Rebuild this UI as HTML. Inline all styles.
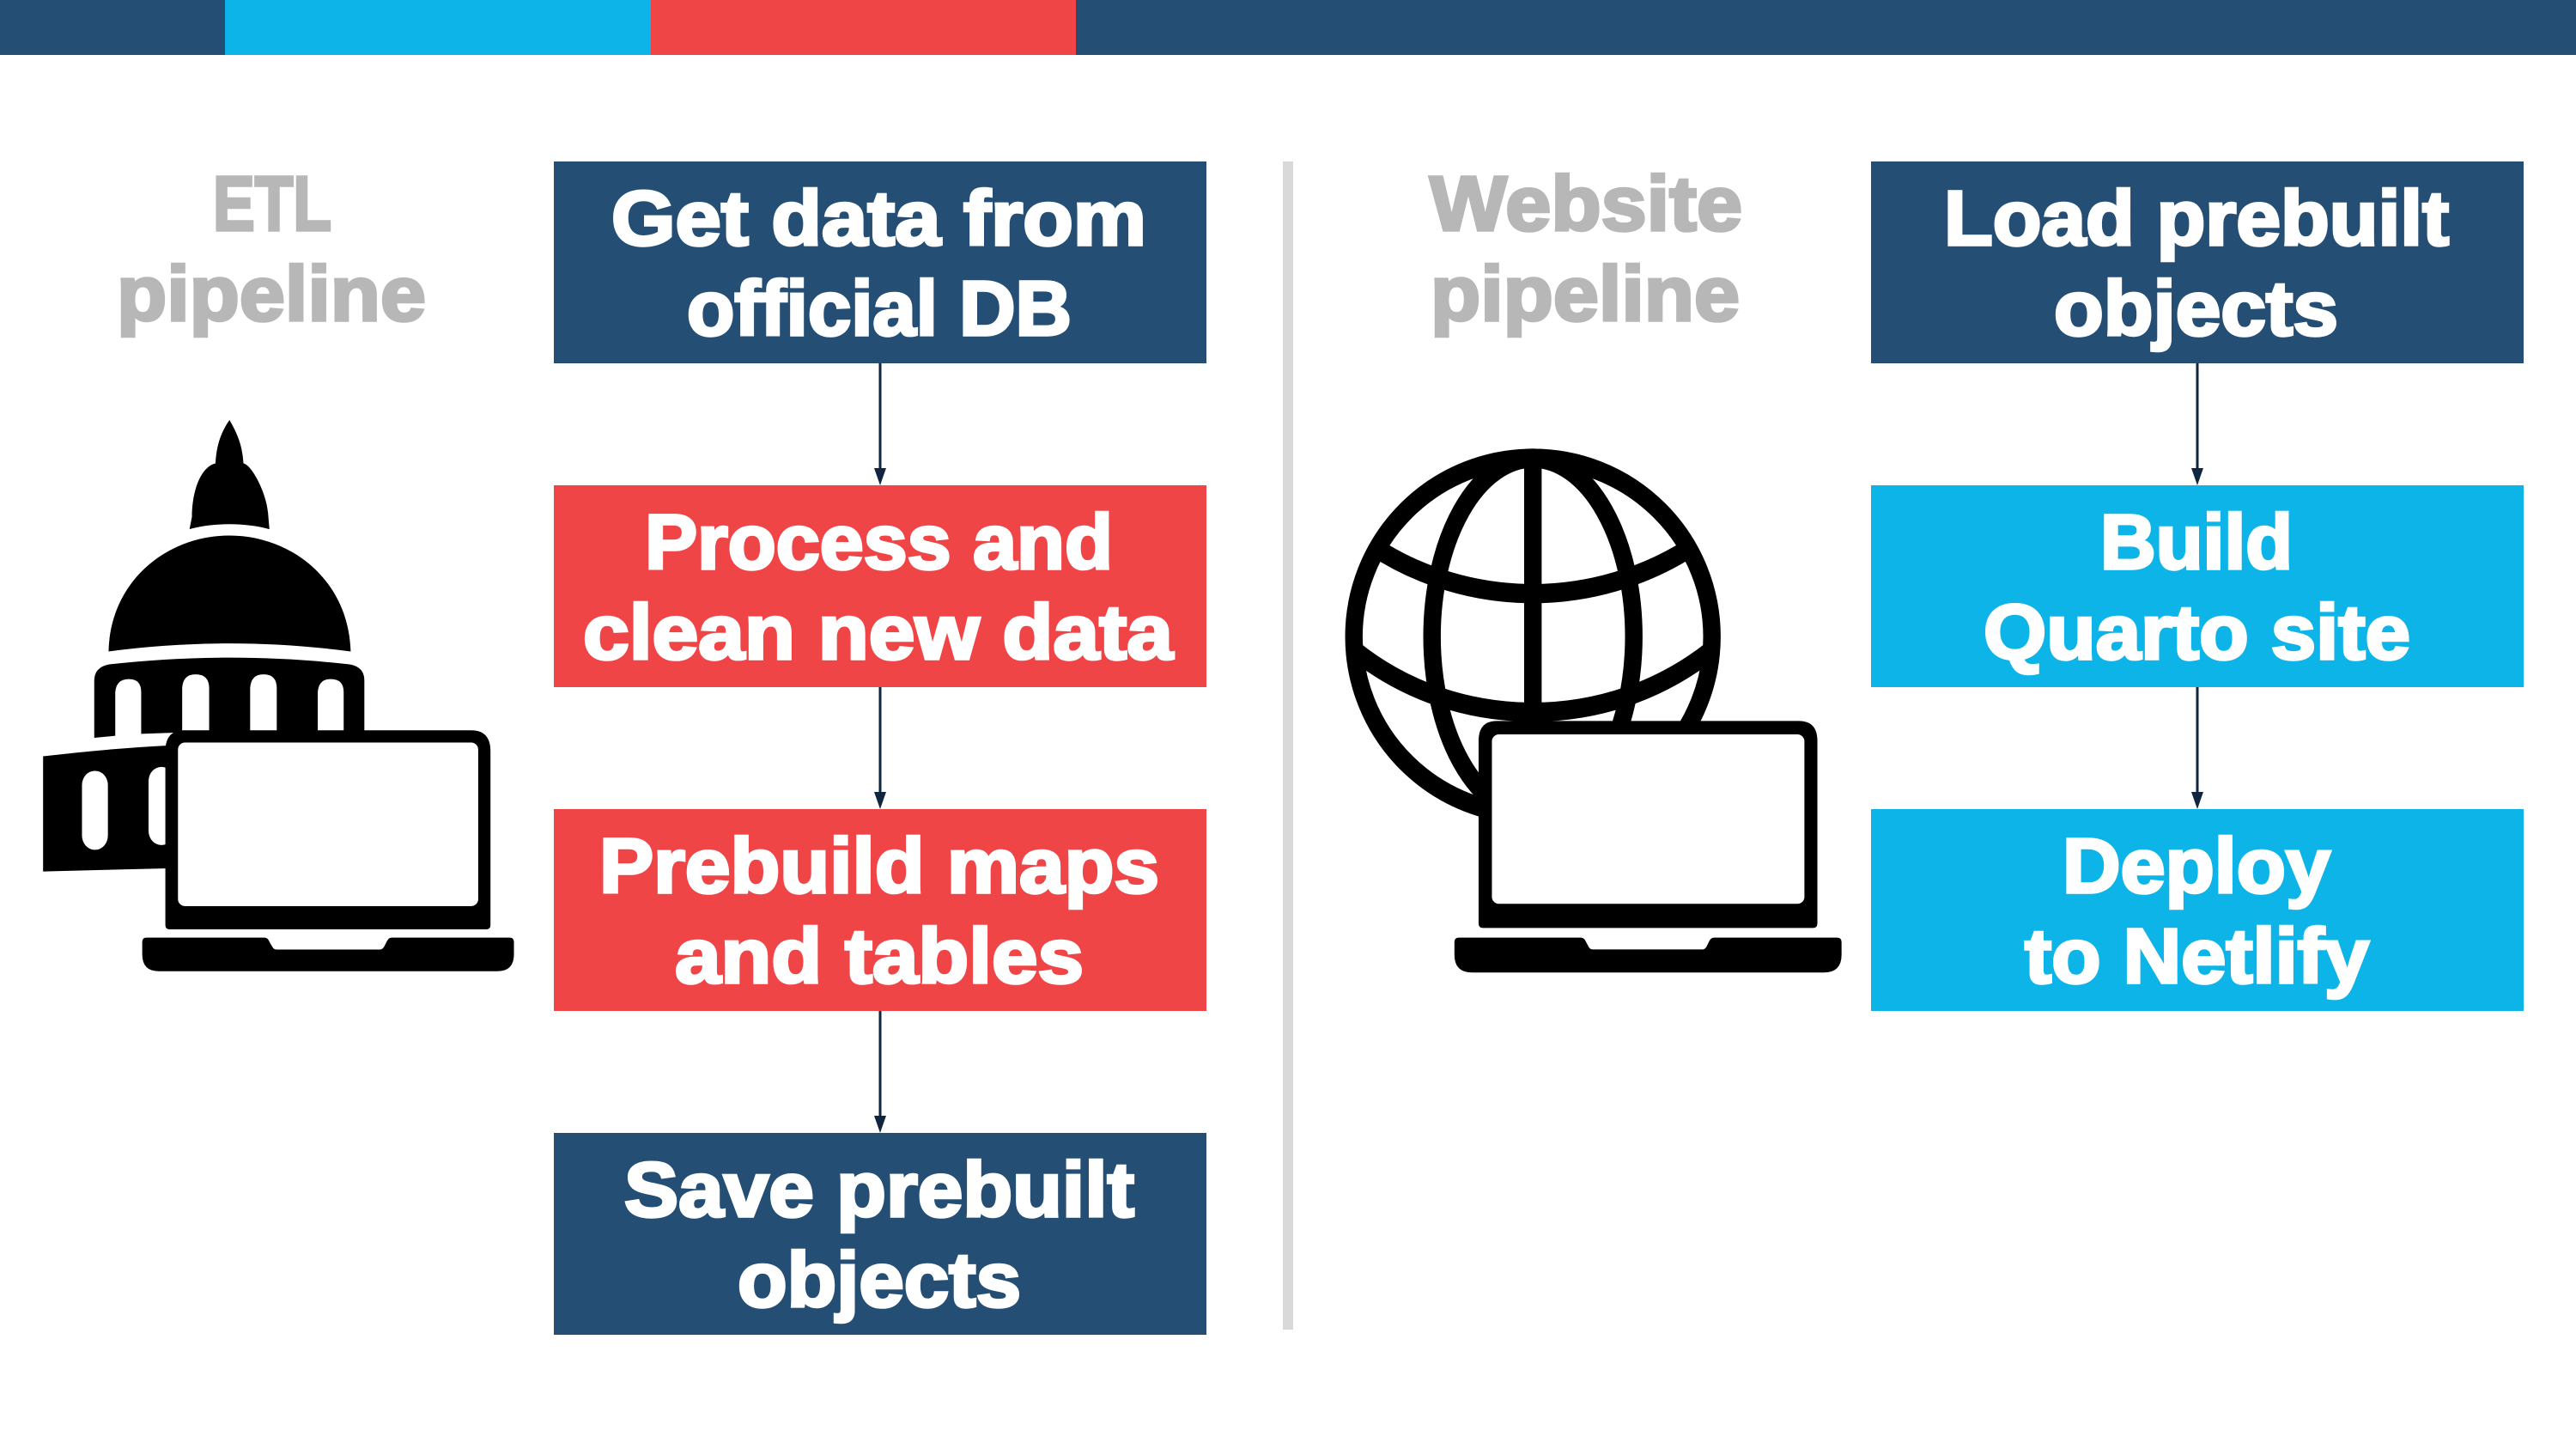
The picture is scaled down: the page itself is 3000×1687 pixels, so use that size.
<!DOCTYPE html>
<html><head><meta charset="utf-8"><title>Pipelines</title>
<style>html,body{margin:0;padding:0;background:#fff}svg{display:block}
text{font-family:"Liberation Sans",sans-serif;font-weight:700;font-size:90px}
.w{fill:#fff;stroke:#fff;stroke-width:3.5px}.g{fill:#b7b7b7;stroke:#b7b7b7;stroke-width:3.5px}</style></head>
<body>
<svg width="3000" height="1687" viewBox="0 0 3000 1687" xmlns="http://www.w3.org/2000/svg">
<rect width="3000" height="1687" fill="#fff"/>
<rect width="3000" height="64" fill="#244e74"/>
<rect x="262" width="496" height="64" fill="#0db4e7"/>
<rect x="758" width="495" height="64" fill="#f04547"/>
<rect x="1494" y="188" width="12" height="1360" fill="#d9d9d9"/>

<g fill="#244e74"><rect x="645" y="188" width="760" height="235"/><rect x="645" y="1319" width="760" height="235"/><rect x="2179" y="188" width="760" height="235"/></g>
<g fill="#f04547"><rect x="645" y="565" width="760" height="235"/><rect x="645" y="942" width="760" height="235"/></g>
<g fill="#0db4e7"><rect x="2179" y="565" width="760" height="235"/><rect x="2179" y="942" width="760" height="235"/></g>

<g stroke="#10263f" stroke-width="3"><path d="M1025 423V550M1025 800V927M1025 1177V1304M2559 423V550M2559 800V927"/></g>
<g fill="#10263f"><path d="M1018 545H1032L1025 565ZM1018 922H1032L1025 942ZM1018 1299H1032L1025 1319ZM2552 545H2566L2559 565ZM2552 922H2566L2559 942Z"/></g>

<text class="w" x="712" y="285" textLength="623" lengthAdjust="spacingAndGlyphs">Get data from</text>
<text class="w" x="800" y="390" textLength="448" lengthAdjust="spacingAndGlyphs">official DB</text>
<text class="w" x="751" y="662" textLength="545" lengthAdjust="spacingAndGlyphs">Process and</text>
<text class="w" x="679" y="767" textLength="687" lengthAdjust="spacingAndGlyphs">clean new data</text>
<text class="w" x="698" y="1039" textLength="652" lengthAdjust="spacingAndGlyphs">Prebuild maps</text>
<text class="w" x="786" y="1144" textLength="476" lengthAdjust="spacingAndGlyphs">and tables</text>
<text class="w" x="727" y="1416" textLength="594" lengthAdjust="spacingAndGlyphs">Save prebuilt</text>
<text class="w" x="859" y="1521" textLength="330" lengthAdjust="spacingAndGlyphs">objects</text>
<text class="w" x="2264" y="285" textLength="588" lengthAdjust="spacingAndGlyphs">Load prebuilt</text>
<text class="w" x="2392" y="390" textLength="331" lengthAdjust="spacingAndGlyphs">objects</text>
<text class="w" x="2446" y="662" textLength="224" lengthAdjust="spacingAndGlyphs">Build</text>
<text class="w" x="2310" y="767" textLength="497" lengthAdjust="spacingAndGlyphs">Quarto site</text>
<text class="w" x="2402" y="1039" textLength="312" lengthAdjust="spacingAndGlyphs">Deploy</text>
<text class="w" x="2358" y="1144" textLength="401" lengthAdjust="spacingAndGlyphs">to Netlify</text>
<text class="g" x="248" y="268" textLength="138" lengthAdjust="spacingAndGlyphs">ETL</text>
<text class="g" x="136" y="373" textLength="360" lengthAdjust="spacingAndGlyphs">pipeline</text>
<text class="g" x="1665" y="268" textLength="364" lengthAdjust="spacingAndGlyphs">Website</text>
<text class="g" x="1666" y="373" textLength="360" lengthAdjust="spacingAndGlyphs">pipeline</text>

<!-- capitol + laptop -->
<g transform="translate(0,450) scale(0.408,0.459)">
<path d="M655 85C620 130 617 170 615 195C570 205 548 270 548 330L541 362C610 345 700 345 769 362L765 320C760 270 720 200 695 195C692 160 685 130 655 85Z"/>
<path d="M310 672C315 490 480 378 655 378C830 378 995 490 1001 672C770 645 540 645 310 672Z"/>
<path d="M269 891V745Q270 712 310 705C540 682 770 682 1000 705Q1040 712 1040 745V900H500V878L403 881V886H329Z"/>
<g fill="#fff">
<path d="M329 895V775Q332 742 368 742Q403 742 403 775V895Z"/>
<path d="M520 880V765Q522 730 558 730Q597 730 597 765V880Z"/>
<path d="M714 880V765Q716 730 752 730Q790 730 790 765V880Z"/>
<path d="M907 880V775Q910 742 944 742Q981 742 981 775V880Z"/>
</g>
<path d="M123 938C250 925 370 915 490 910V1222L123 1230Z"/>
<g fill="#fff"><rect x="234" y="975" width="74" height="200" rx="36"/><rect x="424" y="965" width="74" height="198" rx="36"/></g>
<path d="M472 1365V925Q472 872 525 872H1345Q1400 872 1400 925V1365Q1400 1377 1388 1377H484Q472 1377 472 1365Z"/>
<rect x="508" y="903" width="857" height="415" rx="20" ry="18" fill="#fff"/>
<path d="M406 1410Q406 1398 418 1398H755Q765 1398 770 1410L778 1422Q782 1428 790 1428H1085Q1092 1428 1097 1420L1105 1406Q1110 1398 1118 1398H1455Q1467 1398 1467 1410V1440Q1467 1483 1420 1483H453Q406 1483 406 1440Z"/>
</g>

<!-- globe + laptop -->
<g transform="translate(1540,480) scale(0.408,0.4464)">
<g fill="none" stroke="#000" stroke-width="50">
<ellipse cx="601" cy="585" rx="511" ry="465"/>
<ellipse cx="601" cy="585" rx="288" ry="465"/>
<path d="M601 120V805"/>
<path d="M150 352C280 430 440 473 601 473C760 473 920 430 1052 352"/>
<path d="M90 620C240 730 420 782 601 782C780 782 960 730 1112 620"/>
</g>
<path d="M446 1333V857Q446 805 498 805H1360Q1413 805 1413 857V1333Q1413 1345 1401 1345H458Q446 1345 446 1333Z"/>
<rect x="484" y="840" width="892" height="442" rx="20" ry="18" fill="#fff"/>
<path d="M377 1382Q377 1370 389 1370H738Q748 1370 753 1382L760 1394Q764 1401 772 1401H1085Q1092 1401 1097 1393L1105 1378Q1110 1370 1118 1370H1470Q1482 1370 1482 1382V1415Q1482 1461 1432 1461H427Q377 1461 377 1415Z"/>
</g>
</svg>
</body></html>
